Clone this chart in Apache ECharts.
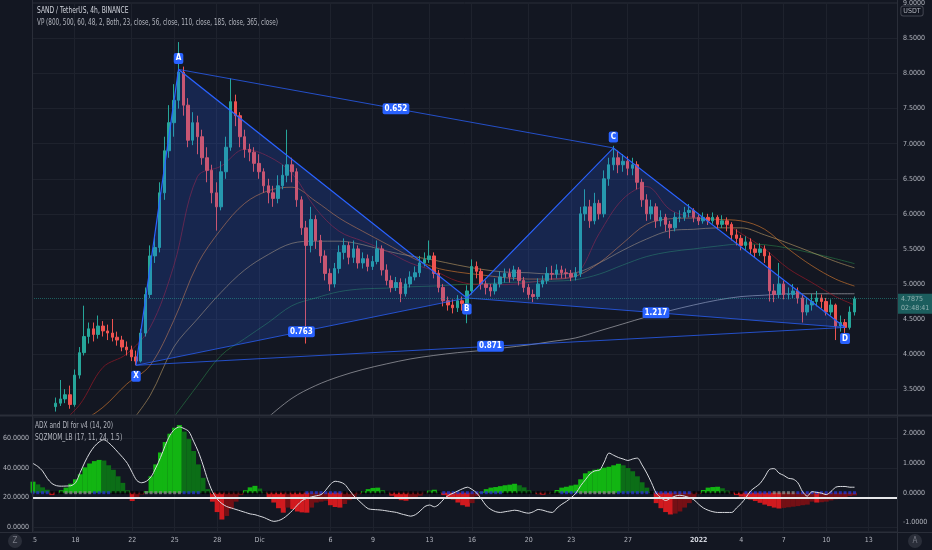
<!DOCTYPE html>
<html>
<head>
<meta charset="utf-8">
<script src="https://cdn.jsdelivr.net/npm/echarts@6/dist/echarts.min.js"></script>
<style>
html,body{margin:0;padding:0;background:#131722;}
#chart{width:932px;height:550px;}
</style>
</head>
<body>
<div id="chart"></div>
<script>
// ---------- DATA ----------
const BAR_COUNT = 184;          // 8h bars from 15 Nov 2021 00:00
const FIRST_BAR = 5;            // first candle visible inside the price pane
const dayLabels = ['15','18','22','25','28','Dic','6','9','13','16','20','23','27','2022','4','7','10','13'];
const dayLabelBars = [0,9,21,30,39,48,63,72,84,93,105,114,126,141,150,159,168,177];

const opens = [
3.25,3.30,3.36,3.42,3.28,3.70,4.02,4.25,4.36,4.28,
4.40,4.33,4.30,4.24,4.20,4.10,4.06,3.96,3.90,4.30,
4.85,5.40,5.52,6.30,6.90,7.30,7.62,8.02,7.55,7.05,
7.30,7.10,6.80,6.62,6.30,6.10,6.60,6.95,7.60,7.40,
7.10,6.92,6.88,6.72,6.60,6.40,6.30,6.22,6.40,6.55,
6.70,6.60,6.20,5.80,5.55,5.92,5.62,5.40,5.15,5.00,
5.22,5.45,5.55,5.38,5.50,5.30,5.36,5.25,5.32,5.50,
5.20,5.05,4.95,5.02,4.86,5.00,5.10,5.16,5.30,5.35,
5.40,5.15,4.95,4.76,4.70,4.66,4.76,4.72,4.90,5.25,
5.18,5.00,4.95,4.90,5.00,5.10,5.15,5.10,5.20,5.05,
4.95,4.85,4.82,5.00,5.05,5.15,5.14,5.20,5.16,5.15,
5.10,5.15,6.00,6.10,5.90,6.15,6.00,6.50,6.70,6.80,
6.70,6.75,6.65,6.70,6.45,6.20,6.00,6.10,5.90,5.95,
5.85,5.80,5.95,5.95,6.02,6.05,5.95,5.90,5.95,5.90,
5.95,5.85,5.90,5.85,5.70,5.65,5.55,5.60,5.50,5.45,
5.50,5.40,4.90,4.85,5.00,4.85,4.85,4.90,4.80,4.60,
4.70,4.75,4.80,4.75,4.60,4.70,4.40,4.45,4.38,4.60];
const closes = [
3.30,3.36,3.42,3.28,3.70,4.02,4.25,4.36,4.28,4.40,
4.33,4.30,4.24,4.20,4.10,4.06,3.96,3.90,4.30,4.85,
5.40,5.52,6.30,6.90,7.30,7.62,8.02,7.55,7.05,7.30,
7.10,6.80,6.62,6.30,6.10,6.60,6.95,7.60,7.40,7.10,
6.92,6.88,6.72,6.60,6.40,6.30,6.22,6.40,6.55,6.70,
6.60,6.20,5.80,5.55,5.92,5.62,5.40,5.15,5.00,5.22,
5.45,5.55,5.38,5.50,5.30,5.36,5.25,5.32,5.50,5.20,
5.05,4.95,5.02,4.86,5.00,5.10,5.16,5.30,5.35,5.40,
5.15,4.95,4.76,4.70,4.66,4.76,4.72,4.90,5.25,5.18,
5.00,4.95,4.90,5.00,5.10,5.15,5.10,5.20,5.05,4.95,
4.85,4.82,5.00,5.05,5.15,5.14,5.20,5.16,5.15,5.10,
5.15,6.00,6.10,5.90,6.15,6.00,6.50,6.70,6.80,6.70,
6.75,6.65,6.70,6.45,6.20,6.00,6.10,5.90,5.95,5.85,
5.80,5.95,5.95,6.02,6.05,5.95,5.90,5.95,5.90,5.95,
5.85,5.90,5.85,5.70,5.65,5.55,5.60,5.50,5.45,5.50,
5.40,4.90,4.85,5.00,4.85,4.85,4.90,4.80,4.60,4.70,
4.75,4.80,4.75,4.60,4.70,4.40,4.45,4.38,4.60,4.7875];
const highs = [
3.38,3.63,3.50,3.55,3.78,4.10,4.69,4.45,4.45,4.55,
4.47,4.42,4.50,4.32,4.26,4.18,4.12,4.05,4.36,4.95,
5.55,5.70,6.45,7.10,7.55,7.85,8.45,8.10,7.65,7.45,
7.40,7.20,6.95,6.70,6.45,6.75,7.10,7.93,7.70,7.45,
7.20,7.00,6.95,6.85,6.65,6.50,6.40,6.55,6.70,7.20,
6.80,6.65,6.25,5.90,6.10,5.98,5.70,5.48,5.22,5.30,
5.55,5.65,5.60,5.62,5.55,5.45,5.42,5.40,5.62,5.55,
5.28,5.12,5.10,5.08,5.08,5.18,5.25,5.40,5.45,5.62,
5.45,5.20,5.00,4.82,4.78,4.84,4.82,4.98,5.35,5.32,
5.22,5.05,5.00,5.08,5.18,5.22,5.22,5.26,5.24,5.10,
5.00,4.92,5.08,5.12,5.24,5.26,5.28,5.26,5.22,5.20,
5.24,6.10,6.35,6.20,6.30,6.20,6.62,6.80,6.97,6.90,
6.85,6.82,6.80,6.75,6.50,6.28,6.20,6.15,6.05,6.00,
5.90,6.02,6.05,6.10,6.14,6.08,6.00,6.02,6.00,6.02,
5.98,5.98,5.95,5.88,5.78,5.70,5.68,5.65,5.56,5.58,
5.55,5.45,5.00,5.30,5.05,4.95,5.00,4.95,4.85,4.80,
4.86,4.90,4.85,4.80,4.78,4.72,4.55,4.50,4.68,4.82];
const lows = [
3.18,3.26,3.30,3.22,3.25,3.65,3.98,4.15,4.18,4.22,
4.25,4.20,4.18,4.12,4.04,3.98,3.90,3.84,3.88,4.25,
4.80,5.30,5.45,6.20,6.80,7.10,7.50,7.40,6.95,6.98,
6.85,6.70,6.45,6.15,5.76,6.05,6.50,6.90,7.25,6.95,
6.80,6.75,6.60,6.50,6.30,6.15,6.10,6.15,6.35,6.45,
6.45,6.10,5.70,4.15,5.45,5.50,5.30,5.05,4.90,4.95,
5.15,5.35,5.28,5.30,5.22,5.22,5.18,5.20,5.28,5.12,
4.98,4.88,4.90,4.74,4.82,4.95,5.05,5.10,5.25,5.30,
5.08,4.88,4.68,4.62,4.58,4.60,4.62,4.44,4.85,5.08,
4.92,4.85,4.82,4.85,4.95,5.02,5.02,5.05,4.98,4.88,
4.78,4.74,4.78,4.95,5.00,5.06,5.08,5.08,5.08,5.04,
5.05,5.10,5.90,5.80,5.85,5.92,5.95,6.40,6.62,6.58,
6.60,6.55,6.55,6.35,6.10,5.90,5.92,5.80,5.82,5.75,
5.65,5.75,5.88,5.90,5.95,5.88,5.84,5.86,5.84,5.86,
5.78,5.80,5.75,5.62,5.55,5.48,5.48,5.42,5.38,5.40,
5.30,4.75,4.74,4.80,4.78,4.78,4.80,4.72,4.45,4.55,
4.62,4.68,4.65,4.55,4.55,4.20,4.32,4.30,4.35,4.55];

// moving averages read every 5 bars
const maBars = [5,10,15,20,25,30,35,40,45,50,55,60,65,70,75,80,85,90,95,100,105,110,115,120,125,130,135,140,145,150,155,160,165,170,174];
const ma23  = [2.95,3.27,3.81,4.00,4.38,5.26,6.53,6.68,6.92,6.82,6.58,6.08,5.75,5.61,5.47,5.30,5.19,5.04,4.99,4.99,5.02,5.07,5.13,5.72,6.21,6.39,6.06,5.95,5.91,5.72,5.50,5.22,5.02,4.82,4.70];
const ma56  = [2.85,3.02,3.24,3.57,3.84,4.48,5.28,5.78,6.15,6.33,6.38,6.18,5.94,5.75,5.57,5.39,5.24,5.17,5.13,5.09,5.07,5.07,5.11,5.30,5.58,5.85,5.93,5.94,5.92,5.90,5.78,5.50,5.26,5.07,4.97];
const ma110 = [null,null,null,2.95,3.41,4.10,4.50,4.88,5.20,5.42,5.58,5.61,5.61,5.56,5.47,5.40,5.34,5.27,5.21,5.17,5.16,5.14,5.16,5.30,5.48,5.64,5.76,5.78,5.80,5.80,5.70,5.58,5.45,5.32,5.23];
const ma185 = [null,null,null,null,null,3.10,3.55,3.98,4.22,4.45,4.69,4.80,4.89,4.93,4.94,4.96,4.97,4.99,5.00,5.02,5.03,5.04,5.06,5.14,5.27,5.39,5.46,5.50,5.54,5.57,5.56,5.51,5.44,5.36,5.29];
const ma365 = [null,null,null,null,null,null,null,null,null,3.10,3.37,3.55,3.68,3.78,3.86,3.93,3.98,4.02,4.05,4.09,4.13,4.18,4.23,4.33,4.43,4.53,4.62,4.70,4.77,4.82,4.84,4.86,4.86,4.86,4.86];

// lower pane (bar 0 .. 174)
const sqzMom = [
0.37,0.28,0.18,0.10,-0.08,-0.02,0.08,0.17,0.30,0.45,
0.62,0.85,0.98,1.06,1.10,1.08,0.92,0.77,0.55,0.33,
0.08,-0.28,-0.18,-0.06,0.05,0.55,0.95,1.35,1.70,1.98,
2.18,2.27,2.05,1.80,1.40,0.95,0.50,0.12,-0.30,-0.65,
-0.90,-0.78,-0.55,-0.30,-0.08,0.08,0.18,0.23,0.14,0.02,
-0.18,-0.33,-0.52,-0.67,-0.50,-0.55,-0.63,-0.66,-0.67,-0.50,
-0.33,-0.30,-0.27,-0.42,-0.48,-0.50,-0.38,-0.25,-0.15,-0.05,
0.05,0.12,0.16,0.17,0.09,0.01,-0.10,-0.20,-0.25,-0.27,
-0.22,-0.16,-0.10,-0.02,0.07,0.10,0.02,-0.08,-0.16,-0.23,
-0.33,-0.42,-0.47,-0.35,-0.12,0.03,0.12,0.17,0.19,0.22,
0.25,0.27,0.30,0.25,0.18,0.08,0.01,-0.05,-0.07,-0.04,
0.01,0.09,0.17,0.20,0.24,0.27,0.45,0.65,0.72,0.77,
0.80,0.84,0.87,0.92,0.97,0.92,0.83,0.72,0.55,0.35,
0.17,0.02,-0.35,-0.52,-0.65,-0.73,-0.70,-0.63,-0.50,-0.35,
-0.20,-0.04,0.09,0.17,0.19,0.20,0.15,0.07,-0.02,-0.08,
-0.13,-0.18,-0.23,-0.28,-0.34,-0.40,-0.45,-0.50,-0.53,-0.51,
-0.49,-0.47,-0.45,-0.42,-0.40,-0.30,-0.33,-0.32,-0.30,-0.26,
-0.22,-0.18,-0.15,-0.11,-0.09];
const adx = [
43,41,38,33,29.5,28,27.7,27.8,28,30,
37,44,50,54.5,57.5,59,57,54,50.5,47,
43,37,31.5,30,31,34,40,47,55,62,
66,67.6,66.5,64.5,58,51,42,32,24,19,
16,14,13,12,11,10,9,8.5,7.5,6.5,
5,4,4.5,6,8.5,11.5,15,18,19.5,20.5,
21.2,22,25,29,31,30.5,29,25,21,18,
15,12.5,12,11.8,11.5,11,10.5,10,9,8.2,
7.5,8.5,11,14,15,13.8,15.5,19,21.5,23,
24.5,26,27,25.5,23,19,14.5,12,10.5,10,
10.5,11,11.5,11,10,9.5,10.5,12,11.5,10.5,
10,13,15.5,17.5,20,23,28,32,36,38,
38.5,44,50,48.5,47,46,45,46,46.6,42,
36.5,30,23,20,18,19.5,21,21.6,21,20,
18.5,15.5,13,11.5,10.5,10,10,10,10,13,
16,20,24.5,27,29.5,34,39,39.5,36.5,35,
33,32.5,30,24,21,24,23.5,23,22,24,
27,27.5,27.5,27,27];
const adxLevel = 20;
// squeeze state runs: [state, bars]  0 = squeeze on (black), 1 = no squeeze (blue), 2 = squeeze off (gray)
const squeezeRuns = [[1,4],[0,3],[2,6],[1,4],[0,7],[2,8],[1,4],[0,22],[1,8],[0,21],[1,13],[0,12],[1,4],[2,8],[1,7],[0,1],[1,8],[0,11],[1,6],[2,5],[1,13]];

// harmonic pattern XABCD
const patternNames = ['X','A','B','C','D'];
const patternBars = [22,31,92,123,172];
const patternPrices = [3.84,8.06,4.80,6.94,4.38];
const ratioPairs = [[0,2],[1,3],[2,4],[0,4]];
const ratioLabels = ['0.763','0.652','1.217','0.871'];

const countdown = '02:48:41';
const titleLine = 'SAND / TetherUS, 4h, BINANCE';
const vpLine = 'VP (800, 500, 60, 48, 2, Both, 23, close, 56, close, 110, close, 185, close, 365, close)';
const adxTitle = 'ADX and DI for v4 (14, 20)';
const sqzTitle = 'SQZMOM_LB (17, 11, 24, 1.5)';

// ---------- STYLE ----------
const BG = '#131722', GRID = '#1e222d', BORDER = '#2a2e39', TXT = '#b2b5be';
const FONT = "'Liberation Sans Narrow', 'DejaVu Sans Condensed', 'Liberation Sans', sans-serif";
const UP = '#26a69a', DOWN = '#ef5350', BLUE = '#2962ff';
const AX_FS = 7;

// ---------- BUILD ----------
const cats = Array.from({length: BAR_COUNT}, (_, i) => 'b' + i);
const labelAt = {};
dayLabelBars.forEach((b, k) => { labelAt[b] = dayLabels[k]; });
const isLabelBar = (idx) => labelAt[idx] !== undefined;

const candleData = cats.map((_, i) => {
  const k = i - FIRST_BAR;
  return (k >= 0 && k < closes.length) ? [opens[k], closes[k], lows[k], highs[k]] : '-';
});
const lastPrice = closes[closes.length - 1];

const maSeries = (name, arr, color) => ({
  name, type: 'line', xAxisIndex: 0, yAxisIndex: 0, showSymbol: false, smooth: 0.35,
  silent: true, z: 1,
  lineStyle: {color, width: 1},
  data: maBars.map((b, k) => [b, arr[k]]).filter(p => p[1] !== null)
});

const sqzColor = (i) => {
  const v = sqzMom[i], p = i > 0 ? sqzMom[i - 1] : v;
  if (v > 0) return v >= p ? '#12b512' : '#0c6e17';
  return v <= p ? '#d11a1f' : '#741015';
};
const dotColors = ['#000000', '#2637c9', '#8a8a8a'];
const dotStates = [];
squeezeRuns.forEach(([s, n]) => { for (let j = 0; j < n; j++) dotStates.push(s); });

const chart = echarts.init(document.getElementById('chart'), null, {renderer: 'canvas'});

const patternRender = (params, api) => {
  const pts = patternBars.map((b, k) => api.coord([b, patternPrices[k]]));
  const children = [];
  children.push({type: 'polygon', shape: {points: [pts[0], pts[1], pts[2]]}, style: {fill: 'rgba(41,98,255,0.2)'}});
  children.push({type: 'polygon', shape: {points: [pts[2], pts[3], pts[4]]}, style: {fill: 'rgba(41,98,255,0.2)'}});
  ratioPairs.forEach(([a, b]) => {
    children.push({type: 'line', shape: {x1: pts[a][0], y1: pts[a][1], x2: pts[b][0], y2: pts[b][1]},
      style: {stroke: 'rgba(41,98,255,0.75)', lineWidth: 1}});
  });
  children.push({type: 'polyline', shape: {points: pts}, style: {stroke: BLUE, lineWidth: 1.2, fill: null}});
  const boxStyle = (text, x, y) => ({type: 'text', x, y, z2: 10, style: {
    text, x: 0, y: 0, fill: '#ffffff', font: 'bold 8px ' + FONT, align: 'center', verticalAlign: 'middle',
    backgroundColor: BLUE, padding: [2, 2, 1, 2], borderRadius: 2}});
  ratioPairs.forEach(([a, b], k) => {
    children.push(boxStyle(ratioLabels[k], (pts[a][0] + pts[b][0]) / 2, (pts[a][1] + pts[b][1]) / 2));
  });
  patternNames.forEach((n, k) => {
    const prev = patternPrices[k - 1], next = patternPrices[k + 1];
    const ref = prev !== undefined ? prev : next;
    const high = patternPrices[k] > ref;
    children.push(boxStyle(n, pts[k][0], pts[k][1] + (high ? -11 : 11)));
  });
  return {type: 'group', children};
};

const textEl = (text, x, y, fill, size, sx) => ({
  type: 'text', x, y, z: 62, scaleX: sx, originX: 0,
  style: {text, fill, font: size + 'px ' + FONT, verticalAlign: 'middle'}
});

const option = {
  backgroundColor: BG,
  animation: false,
  textStyle: {fontFamily: FONT},
  grid: [
    {left: 32, right: 35, top: 0, bottom: 135},
    {left: 32, right: 35, top: 417, bottom: 19}
  ],
  xAxis: [
    {type: 'category', gridIndex: 0, data: cats, boundaryGap: false,
      axisLine: {show: false}, axisTick: {show: false}, axisLabel: {show: false},
      splitLine: {show: true, interval: (i) => isLabelBar(i), lineStyle: {color: GRID, width: 1}}},
    {type: 'category', gridIndex: 1, data: cats, boundaryGap: false,
      axisLine: {show: false}, axisTick: {show: false},
      axisLabel: {show: true, interval: (i) => isLabelBar(i), color: TXT, fontSize: AX_FS, margin: 6, fontFamily: FONT,
        alignMinLabel: 'center', alignMaxLabel: 'center',
        formatter: (v, i) => labelAt[i] === '2022' ? '{b|2022}' : (labelAt[i] || ''),
        rich: {b: {fontWeight: 'bold', fontSize: AX_FS, color: '#d1d4dc', fontFamily: FONT}}},
      splitLine: {show: true, interval: (i) => isLabelBar(i), lineStyle: {color: GRID, width: 1}}}
  ],
  yAxis: [
    {type: 'value', gridIndex: 0, position: 'right', min: 3.131, max: 9.021, minInterval: 0.5, maxInterval: 0.5,
      axisLine: {show: false}, axisTick: {show: false},
      splitLine: {lineStyle: {color: GRID}},
      axisLabel: {color: TXT, fontSize: AX_FS, margin: 6, fontFamily: FONT, showMinLabel: false, showMaxLabel: false,
        formatter: (v) => v.toFixed(4)}},
    {type: 'value', gridIndex: 1, position: 'left', min: -2.5, max: 74.3, minInterval: 20, maxInterval: 20,
      axisLine: {show: false}, axisTick: {show: false},
      splitLine: {lineStyle: {color: GRID}},
      axisLabel: {color: TXT, fontSize: AX_FS, margin: 4, fontFamily: FONT, showMinLabel: false, showMaxLabel: false,
        formatter: (v) => v.toFixed(4)}},
    {type: 'value', gridIndex: 1, position: 'right', min: -1.285, max: 2.54, minInterval: 1, maxInterval: 1,
      axisLine: {show: false}, axisTick: {show: false}, splitLine: {show: false},
      axisLabel: {color: TXT, fontSize: AX_FS, margin: 6, fontFamily: FONT, showMinLabel: false, showMaxLabel: false,
        formatter: (v) => v.toFixed(4)}}
  ],
  series: [
    maSeries('MA 365', ma365, 'rgba(205,205,212,0.55)'),
    maSeries('MA 185', ma185, 'rgba(46,150,80,0.5)'),
    maSeries('MA 110', ma110, 'rgba(205,170,110,0.55)'),
    maSeries('MA 56', ma56, 'rgba(226,128,48,0.6)'),
    maSeries('MA 23', ma23, 'rgba(150,26,40,0.7)'),
    {
      name: 'SAND/USDT', type: 'candlestick', xAxisIndex: 0, yAxisIndex: 0, data: candleData,
      barWidth: 3, z: 2,
      itemStyle: {color: UP, color0: DOWN, borderColor: UP, borderColor0: DOWN, borderWidth: 1},
      markLine: {
        symbol: 'none', silent: true, animation: false,
        lineStyle: {color: UP, type: 'dotted', width: 1, opacity: 0.5},
        label: {show: true, position: 'end', distance: 1, formatter: lastPrice.toFixed(4) + '\n' + countdown,
          backgroundColor: UP, color: '#ffffff', fontSize: 7, lineHeight: 9, padding: [1, 3, 1, 3],
          fontFamily: FONT, offset: [0, 5]},
        data: [{yAxis: lastPrice}]
      }
    },
    {
      name: 'XABCD', type: 'custom', xAxisIndex: 0, yAxisIndex: 0, data: [0], z: 3, silent: true,
      renderItem: patternRender
    },
    {
      name: 'SQZMOM', type: 'bar', xAxisIndex: 1, yAxisIndex: 2, barWidth: 5, barGap: '-100%',
      data: sqzMom.map((v, i) => ({value: v, itemStyle: {color: sqzColor(i)}})), z: 2
    },
    {
      name: 'Squeeze', type: 'scatter', xAxisIndex: 1, yAxisIndex: 2, symbol: 'rect', symbolSize: [3, 3], z: 3,
      data: dotStates.map((s, i) => ({value: [i, 0], itemStyle: {color: dotColors[s]}}))
    },
    {
      name: 'ADX', type: 'line', xAxisIndex: 1, yAxisIndex: 1, data: adx, showSymbol: false, smooth: 0.3, z: 5,
      lineStyle: {color: '#d9dbe0', width: 1},
      markLine: {symbol: 'none', silent: true, animation: false, label: {show: false},
        lineStyle: {color: '#e6e7ea', width: 2, type: 'solid'}, data: [{yAxis: adxLevel}]}
    }
  ],
  graphic: [
    {type: 'line', shape: {x1: 32.5, y1: 0, x2: 32.5, y2: 533}, style: {stroke: BORDER, lineWidth: 1}, z: 50},
    {type: 'line', shape: {x1: 897.5, y1: 0, x2: 897.5, y2: 550}, style: {stroke: BORDER, lineWidth: 1}, z: 50},
    {type: 'line', shape: {x1: 0, y1: 415.5, x2: 932, y2: 415.5}, style: {stroke: BORDER, lineWidth: 2}, z: 50},
    {type: 'line', shape: {x1: 0, y1: 532.5, x2: 932, y2: 532.5}, style: {stroke: BORDER, lineWidth: 1}, z: 50},
    {type: 'rect', shape: {x: 0, y: 533, width: 32.5, height: 17}, style: {fill: BG}, z: 60},
    {type: 'circle', shape: {cx: 15, cy: 541, r: 7}, style: {fill: '#2a2e39'}, z: 61},
    {type: 'text', x: 15, y: 541, z: 62, style: {text: 'Z', fill: '#787b86', font: '8px ' + FONT, align: 'center', verticalAlign: 'middle'}},
    {type: 'circle', shape: {cx: 915, cy: 541, r: 7}, style: {fill: '#2a2e39'}, z: 61},
    {type: 'text', x: 915, y: 541, z: 62, style: {text: 'A', fill: '#787b86', font: '8px ' + FONT, align: 'center', verticalAlign: 'middle'}},
    textEl(titleLine, 37, 11, '#d1d4dc', 8, 0.83),
    textEl(vpLine, 37, 23, TXT, 8, 0.79),
    textEl(adxTitle, 35, 426, TXT, 8, 0.82),
    textEl(sqzTitle, 35, 438, TXT, 8, 0.82),
    {type: 'text', x: 912, y: 11, z: 62, style: {text: 'USDT', fill: TXT, font: '7px ' + FONT, align: 'center', verticalAlign: 'middle',
      backgroundColor: BG, borderColor: '#434651', borderWidth: 1, borderRadius: 2, padding: [1, 2, 1, 2]}}
  ]
};
chart.setOption(option);
</script>
</body>
</html>
